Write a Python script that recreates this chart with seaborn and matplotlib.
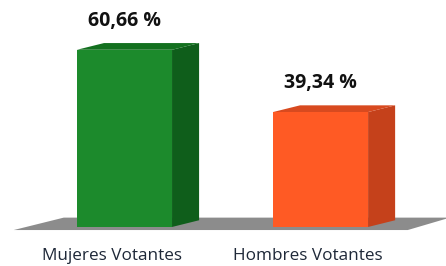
import matplotlib
matplotlib.use("Agg")
import matplotlib.pyplot as plt
import seaborn as sns
import pandas as pd
from matplotlib.patches import Polygon

categories = ["Mujeres Votantes", "Hombres Votantes"]
values = [60.66, 39.34]
value_labels = ["60,66 %", "39,34 %"]
front_colors = ["#1c8a2c", "#ff5a24"]
side_colors = ["#0f5e1b", "#c5411b"]
top_colors = ["#13701f", "#d84a1f"]

df = pd.DataFrame({"cat": categories, "val": values})

sns.set_theme(style="white")
plt.rcParams["font.family"] = ["Open Sans", "DejaVu Sans"]

fig = plt.figure(figsize=(4.46, 2.66), dpi=100)
ax = fig.add_axes([0, 0, 1, 1])

# floor (drawn first, behind bars)
floor = Polygon([(-0.565, -1.05), (1.445, -1.05), (1.66, 3.2), (-0.31, 3.2)],
                closed=True, facecolor="#8c8c8c", edgecolor="none", zorder=0)
ax.add_patch(floor)

sns.barplot(data=df, x="cat", y="val", hue="cat", palette=front_colors,
            width=0.485, legend=False, ax=ax, zorder=3, saturation=1,
            linewidth=0, edgecolor="none")

bars = [pp for pp in ax.patches if pp is not floor]
dx = 0.138   # depth in x (data units)
dy = 2.3     # depth in y (data units)
for i, p in enumerate(bars):
    x0 = p.get_x()
    w = p.get_width()
    h = p.get_height()
    x1 = x0 + w
    side = Polygon([(x1, 0), (x1 + dx, dy), (x1 + dx, h + dy), (x1, h)],
                   closed=True, facecolor=side_colors[i], edgecolor="none", zorder=2)
    top = Polygon([(x0, h), (x0 + dx, h + dy), (x1 + dx, h + dy), (x1, h)],
                  closed=True, facecolor=top_colors[i], edgecolor="none", zorder=2)
    ax.add_patch(side)
    ax.add_patch(top)
    ax.text(x0 + w / 2, h + 10.0, value_labels[i], ha="center", va="center",
            fontsize=14, fontweight="bold", color="#111111", zorder=5)

for i, c in enumerate(categories):
    ax.text(i - 0.065, -10.0, c, ha="center", va="center", fontsize=12.3,
            color="#1e2838", zorder=5)

ax.set_xlim(-0.635, 1.640)
ax.set_ylim(-13.36, 77.7)
ax.axis("off")
fig.patch.set_facecolor("white")

fig.savefig("out.png", dpi=100)
